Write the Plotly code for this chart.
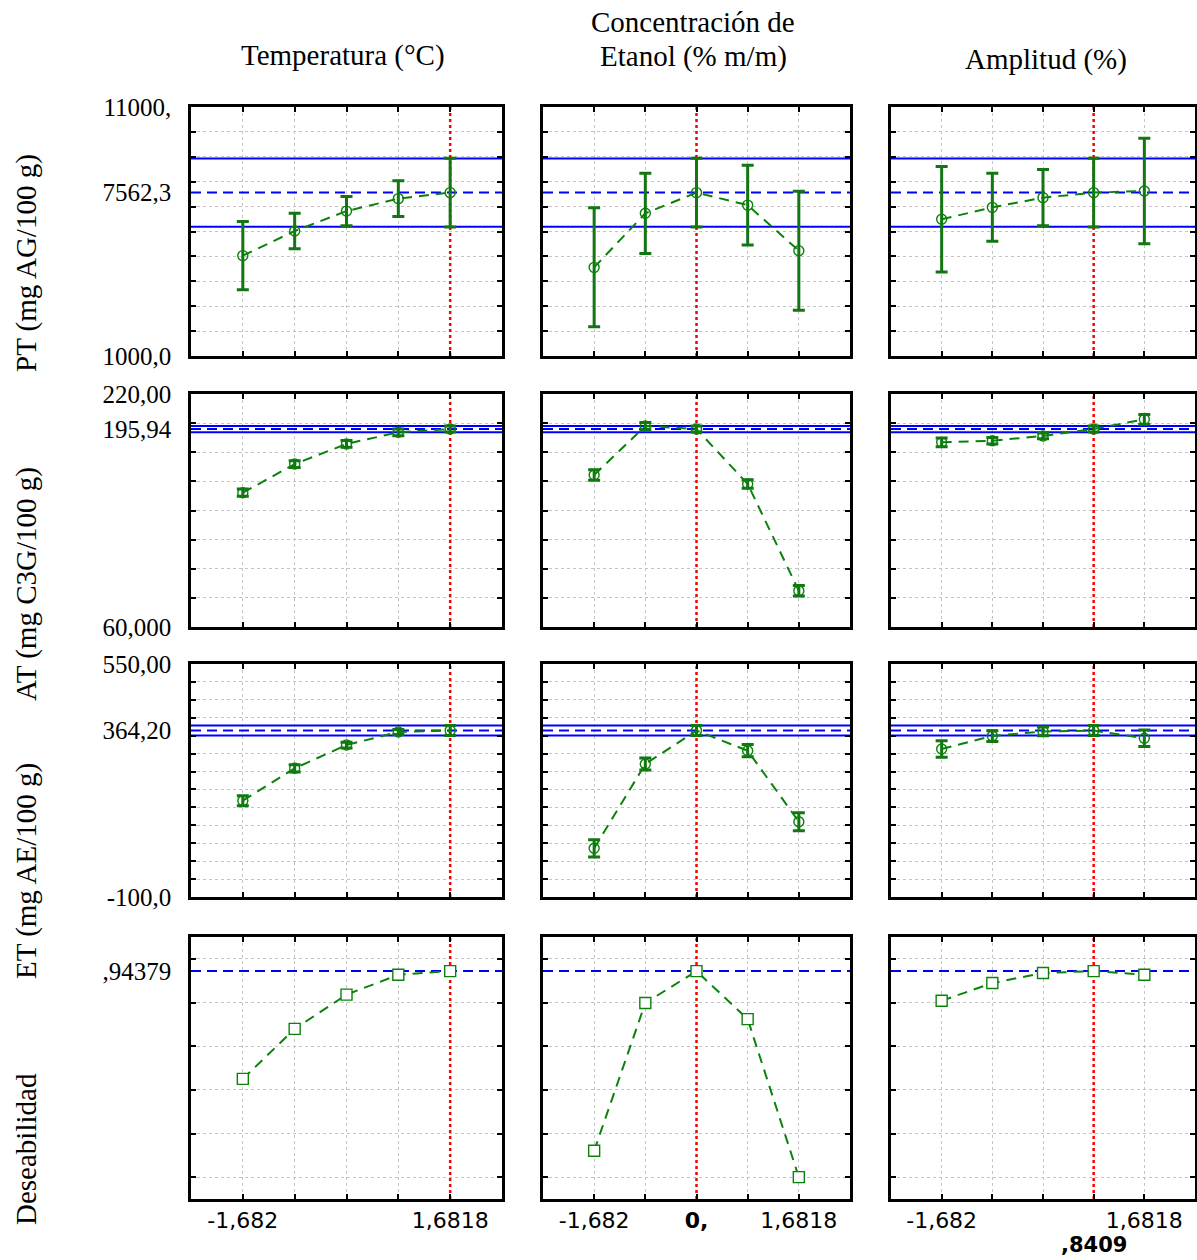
import numpy as np
import plotly.graph_objects as go
from plotly.subplots import make_subplots

W, H = 1197, 1260

# ---- factor levels (coded) and optimum setting per factor ----
factor_levels = [-1.682, -0.8409, 0.0, 0.8409, 1.6818]
optimum_x = [1.6818, 0.0, 0.8409]

# ---- PT (mg AG/100 g) ----
pt_temp = [5030, 6020, 6820, 7320, 7562.3]
pt_temp_err = [1370, 710, 590, 715, 1380]
pt_etanol = [4560, 6730, 7562.3, 7060, 5230]
pt_etanol_err = [2390, 1610, 1380, 1605, 2390]
pt_ampl = [6490, 6970, 7360, 7562.3, 7625]
pt_ampl_err = [2120, 1365, 1125, 1380, 2120]

# ---- AT (mg C3G/100 g) ----
at_temp = [152.2, 171.9, 185.7, 193.7, 195.94]
at_temp_err = [2.5, 2.3, 2.3, 2.3, 2.1]
at_etanol = [164.4, 198.0, 195.94, 158.2, 84.9]
at_etanol_err = [3.6, 2.5, 2.1, 3.0, 3.6]
at_ampl = [186.8, 187.9, 191.2, 195.94, 202.6]
at_ampl_err = [3.0, 2.3, 2.0, 2.1, 3.4]

# ---- ET (mg AE/100 g) ----
et_temp = [168.6, 259.0, 324.0, 360.3, 364.2]
et_temp_err = [14, 10, 8, 7, 14]
et_etanol = [35.9, 271.0, 364.2, 308.1, 110.1]
et_etanol_err = [24, 17, 14, 17, 25]
et_ampl = [312.9, 349.1, 362.0, 364.2, 342.7]
et_ampl_err = [23, 15, 12, 14, 23]

# ---- Desirability ----
des_temp = [0.450, 0.679, 0.836, 0.927, 0.94379]
des_etanol = [0.121, 0.798, 0.94379, 0.724, 0.0]
des_ampl = [0.808, 0.889, 0.935, 0.94379, 0.927]

# predicted value at the optimum and its confidence limits
opt_pred = [7562.3, 195.94, 364.2, 0.94379]
ci_low = [6195, 193.8, 350.2, None]
ci_high = [8930, 198.0, 378.2, None]

# axis ranges, labelled ticks and grid spacing per response
y_ranges = [(1000, 11000), (60, 220), (-100, 550), (-0.1, 1.1)]
y_tick_vals = [[1000, 7562.3, 11000], [60, 195.94, 220], [-100, 364.2, 550], [0.94379]]
y_tick_text = [["1000,0", "7562,3", "11000,"], ["60,000", "195,94", "220,00"],
               ["-100,0", "364,20", "550,00"], [",94379"]]
y_grid = [(2000, 10000, 1000), (80, 200, 20), (-50, 500, 50), (0, 1.0, 0.2)]

x_tick_text = [["-1,682", "", "", "", "1,6818"],
               ["-1,682", "", "<b>0,</b>", "", "1,6818"],
               ["-1,682", "", "", "", "1,6818"]]

row_titles = ["PT (mg AG/100 g)", "AT (mg C3G/100 g)", "ET (mg AE/100 g)", "Deseabilidad"]
row_title_y = [263, 584, 871, 1149]

values = [
    [(pt_temp, pt_temp_err), (pt_etanol, pt_etanol_err), (pt_ampl, pt_ampl_err)],
    [(at_temp, at_temp_err), (at_etanol, at_etanol_err), (at_ampl, at_ampl_err)],
    [(et_temp, et_temp_err), (et_etanol, et_etanol_err), (et_ampl, et_ampl_err)],
    [(des_temp, None), (des_etanol, None), (des_ampl, None)],
]

# panel placement (pixels)
col_px = [(191, 502), (543, 850), (891, 1195)]
row_px = [(107, 356), (394, 627), (664, 897), (937, 1199)]

GREEN = "#0a820a"
BAR_GREEN = "#137513"
BLUE = "#0000ff"
RED = "#ff0000"
GRID = "#c4c4c4"
SERIF = "Liberation Serif"
SANS = "DejaVu Sans"

fig = make_subplots(rows=4, cols=3)
x_half = 3 * 0.8409
x_span = [-x_half, x_half]


def ref_line(x, y, color, dash):
    return go.Scatter(x=x, y=y, mode="lines", hoverinfo="skip", showlegend=False,
                      line=dict(color=color, width=2 if color == BLUE else 2.5, dash=dash))


for r in range(4):
    for c in range(3):
        idx = r * 3 + c + 1
        yv, err = values[r][c]
        is_des = r == 3
        rr, cc = r + 1, c + 1

        # confidence limits and predicted response at the optimum
        for lim in (ci_low[r], ci_high[r]):
            if lim is not None:
                fig.add_trace(ref_line(x_span, [lim, lim], BLUE, "solid"), row=rr, col=cc)
        fig.add_trace(ref_line(x_span, [opt_pred[r], opt_pred[r]], BLUE, "10px,6px"),
                      row=rr, col=cc)
        # optimum setting of the factor
        fig.add_trace(ref_line([optimum_x[c], optimum_x[c]], list(y_ranges[r]), RED, "dot"),
                      row=rr, col=cc)

        tr = go.Scatter(
            x=factor_levels, y=yv, mode="lines+markers",
            line=dict(color=GREEN, width=2, dash="10px,7px"),
            marker=dict(symbol="square" if is_des else "circle-open",
                        size=11 if is_des else 10,
                        color="white" if is_des else GREEN,
                        line=dict(color=GREEN, width=1.4)),
            showlegend=False, hoverinfo="x+y",
        )
        if err is not None:
            tr.error_y = dict(type="data", array=err, visible=True,
                              color=BAR_GREEN, thickness=3, width=6)
        fig.add_trace(tr, row=rr, col=cc)

        xs = "" if idx == 1 else str(idx)
        xa, ya = "xaxis" + xs, "yaxis" + xs

        g0, g1, gd = y_grid[r]
        grid_vals = [float(v) for v in np.round(np.arange(g0, g1 + gd / 2, gd), 6)]
        xgrid_vals = [v for v in factor_levels if v != optimum_x[c]]

        fig.layout[xa].update(
            domain=[col_px[c][0] / W, col_px[c][1] / W],
            range=x_span, tickmode="array", tickvals=factor_levels,
            ticktext=x_tick_text[c], showticklabels=is_des,
            ticks="inside", ticklen=5, tickwidth=2, tickcolor="black",
            showgrid=False,
            minor=dict(tickmode="array", tickvals=xgrid_vals, ticks="",
                       showgrid=True, gridcolor=GRID, gridwidth=1, griddash="3px,3px"),
            showline=True, linecolor="black", linewidth=2.5, mirror="allticks",
            zeroline=False, automargin=False,
            tickfont=dict(family=SANS, size=22, color="black"),
        )
        fig.layout[ya].update(
            domain=[1 - row_px[r][1] / H, 1 - row_px[r][0] / H],
            range=list(y_ranges[r]), tickmode="array", tickvals=y_tick_vals[r],
            ticktext=y_tick_text[r] if c == 0 else [""] * len(y_tick_vals[r]),
            showticklabels=(c == 0), ticks="", showgrid=False,
            minor=dict(tickmode="array", tickvals=grid_vals, ticks="inside",
                       ticklen=5, tickwidth=2, tickcolor="black", showgrid=True,
                       gridcolor=GRID, gridwidth=1, griddash="3px,3px"),
            showline=True, linecolor="black", linewidth=2.5, mirror="allticks",
            zeroline=False, automargin=False,
            tickfont=dict(family=SERIF, size=25, color="black"),
            ticklabelstandoff=12,
        )

# current value of Amplitud shown under its axis
fig.add_annotation(x=optimum_x[2], xref="x12", y=1 - 1245 / H, yref="paper",
                   xanchor="center", yanchor="middle",
                   text="<b>,8409</b>", showarrow=False,
                   font=dict(family=SANS, size=21, color="black"))

# column titles
title_font = dict(family=SERIF, size=29, color="black")
col_titles = [("Temperatura (°C)", 343, 56), ("Concentración de", 693, 22),
              ("Etanol (% m/m)", 693, 57), ("Amplitud (%)", 1046, 59)]
for t, xp, yp in col_titles:
    fig.add_annotation(x=xp / W, y=1 - yp / H, xref="paper", yref="paper",
                       xanchor="center", yanchor="middle",
                       text=t, showarrow=False, font=title_font)

# response titles
for t, yp in zip(row_titles, row_title_y):
    fig.add_annotation(x=26 / W, y=1 - yp / H, xref="paper", yref="paper",
                       xanchor="center", yanchor="middle",
                       text=t, textangle=-90, showarrow=False, font=title_font)

fig.update_layout(
    width=W, height=H, margin=dict(l=0, r=0, t=0, b=0, autoexpand=False),
    paper_bgcolor="white", plot_bgcolor="white", showlegend=False,
)

fig.write_html("out.html")
